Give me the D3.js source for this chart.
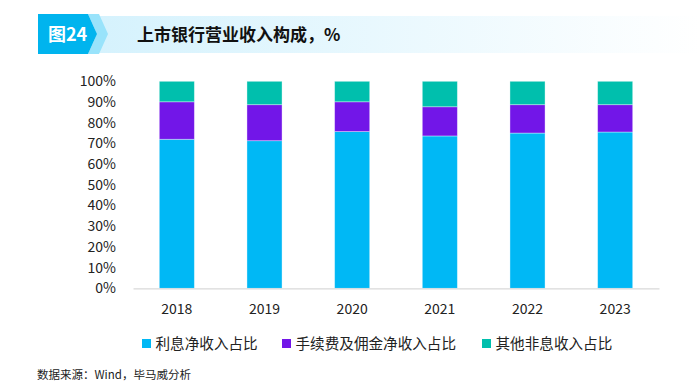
<!DOCTYPE html>
<html><head><meta charset="utf-8">
<script src="https://cdn.jsdelivr.net/npm/d3@7/dist/d3.min.js"></script>
<style>body{margin:0;background:#fff}svg{display:block}</style>
</head><body>
<svg id="c" width="700" height="390"></svg>
<script>
const years = ["2018","2019","2020","2021","2022","2023"];
const interestShare = [72.0, 71.3, 75.7, 73.6, 75.0, 75.5];
const feeShare = [18.1, 17.4, 14.4, 14.1, 13.7, 13.2];
const otherShare = [9.9, 11.3, 9.9, 12.3, 11.3, 11.3];
const seriesNames = ["利息净收入占比", "手续费及佣金净收入占比", "其他非息收入占比"];
const yTicks = [0,10,20,30,40,50,60,70,80,90,100];
const colors = ["#00B8F5", "#7216E8", "#00BFAD"];

const font = "'Noto Sans CJK SC','Microsoft YaHei',sans-serif";
const svg = d3.select("#c");

// header
const defs = svg.append("defs");
const g = defs.append("linearGradient").attr("id","hg").attr("x1","0").attr("x2","1");
g.append("stop").attr("offset","0").attr("stop-color","#d5f2fd");
g.append("stop").attr("offset","1").attr("stop-color","#ffffff");
svg.append("rect").attr("x",95).attr("y",16).attr("width",605).attr("height",37).attr("fill","url(#hg)");
svg.append("polygon").attr("points","88,14 99,14 108,34 99,54 88,54 97,34").attr("fill","#99e3fb");
svg.append("polygon").attr("points","38,14 88,14 97,34 88,54 38,54").attr("fill","#00b4ee");
svg.append("text").attr("x",48).attr("y",41).attr("fill","#fff").attr("font-family",font)
  .attr("font-weight","bold").attr("font-size",18).text("图24");
svg.append("text").attr("x",137).attr("y",40.5).attr("fill","#111").attr("font-family",font)
  .attr("font-weight","bold").attr("font-size",17).text("上市银行营业收入构成，%");

// scales
const x = d3.scaleBand().domain(years).range([133, 659]).paddingInner(0.6).paddingOuter(0.3);
const y = d3.scaleLinear().domain([0,100]).range([288.3, 81.3]);

const rows = years.map((yr,i)=>({year:yr, a:interestShare[i], b:feeShare[i], c:otherShare[i]}));
const stack = d3.stack().keys(["a","b","c"])(rows);

svg.append("g").selectAll("g").data(stack).join("g").attr("fill",(d,i)=>colors[i])
  .selectAll("rect").data(d=>d).join("rect")
  .attr("x",d=>x(d.data.year)).attr("width",x.bandwidth())
  .attr("y",d=>y(Math.min(100,d[1]))).attr("height",d=>y(d[0])-y(Math.min(100,d[1])))
  .attr("stroke","rgba(255,255,255,0.45)").attr("stroke-width",0.8);

// y axis labels
const ya = svg.append("g").attr("transform","translate(116,0)")
  .call(d3.axisLeft(y).tickValues(yTicks).tickFormat(d=>d+"%").tickSize(0).tickPadding(0));
ya.select(".domain").remove();
ya.selectAll("text").attr("font-family",font).attr("font-size",14).attr("fill","#222");

// x axis
const xa = svg.append("g").attr("transform","translate(0,288.3)")
  .call(d3.axisBottom(x).tickSize(0).tickPadding(16));
xa.select(".domain").attr("stroke","#d9d9d9").attr("stroke-width",1.2);
xa.selectAll("text").attr("font-family",font).attr("font-size",14).attr("fill","#222");

// legend
const legX = [142, 282, 482];
const lg = svg.append("g");
seriesNames.forEach((n,i)=>{
  lg.append("rect").attr("x",legX[i]).attr("y",339).attr("width",9).attr("height",9).attr("fill",colors[i]);
  lg.append("text").attr("x",legX[i]+13.5).attr("y",349).attr("font-family",font).attr("font-size",14.6)
    .attr("fill","#222").text(n);
});

// source
svg.append("text").attr("x",37).attr("y",379).attr("font-family",font).attr("font-size",11.5)
  .attr("fill","#222").text("数据来源：Wind，毕马威分析");
</script>
</body></html>
